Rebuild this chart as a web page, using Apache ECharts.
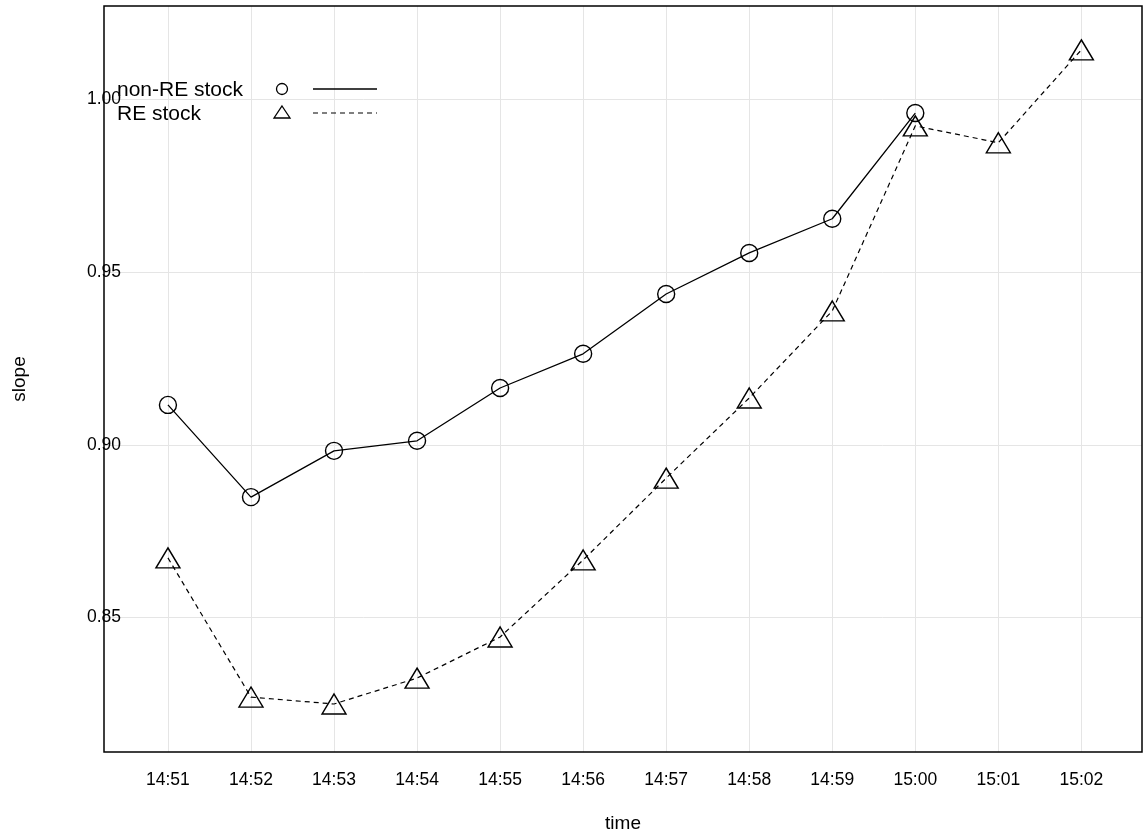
<!DOCTYPE html>
<html>
<head>
<meta charset="utf-8">
<script src="https://cdn.jsdelivr.net/npm/echarts@6/dist/echarts.min.js"></script>
<style>html,body{margin:0;padding:0;background:#fff}#c{width:1146px;height:838px}</style>
</head>
<body>
<div id="c"></div>
<script>
var times = ['14:51','14:52','14:53','14:54','14:55','14:56','14:57','14:58','14:59','15:00','15:01','15:02'];
var nonRE = [0.9116,0.8849,0.8983,0.9012,0.9165,0.9264,0.9437,0.9556,0.9655,0.9961];
var RE = [0.8673,0.8270,0.8250,0.8325,0.8444,0.8667,0.8904,0.9136,0.9388,0.9924,0.9875,1.0144];
var yTicks = [0.85,0.90,0.95,1.00];
var seriesNames = ['non-RE stock','RE stock'];

var idx = times.map(function(t,i){return i;});
var font = 'Liberation Sans, Arial, sans-serif';
var chart = echarts.init(document.getElementById('c'));
chart.setOption({
  animation:false,
  backgroundColor:'#fff',
  grid:{left:104,top:6,right:4,bottom:86,containLabel:false,outerBoundsMode:'none',show:true,borderColor:'#000',borderWidth:1.5,backgroundColor:'transparent',z:10},
  xAxis:{type:'value',min:-0.77,max:11.73,
    name:'time',nameLocation:'middle',nameGap:62,nameTextStyle:{fontFamily:font,fontSize:19,color:'#000'},
    axisLine:{show:false},axisTick:{show:false,customValues:idx},
    axisLabel:{customValues:idx,margin:19,fontFamily:font,fontSize:17.5,color:'#000',formatter:function(v){return times[Math.round(v)];}},
    splitLine:{show:true,lineStyle:{color:'#e5e5e5',width:1}}},
  yAxis:{type:'value',min:0.8111,max:1.0271,
    name:'slope',nameLocation:'middle',nameGap:75,nameRotate:90,nameTextStyle:{fontFamily:font,fontSize:19,color:'#000'},
    axisLine:{show:false},axisTick:{show:false,customValues:yTicks},
    axisLabel:{customValues:yTicks,margin:0,align:'center',fontFamily:font,fontSize:17.5,color:'#000',formatter:function(v){return v.toFixed(2);}},
    splitLine:{show:true,lineStyle:{color:'#e5e5e5',width:1}}},
  series:[
    {name:seriesNames[0],type:'line',data:nonRE.map(function(v,i){return [i,v];}),
     symbol:'circle',symbolSize:17,showAllSymbol:true,
     lineStyle:{color:'#000',width:1.3,type:'solid'},
     itemStyle:{color:'transparent',borderColor:'#000',borderWidth:1.4},z:3},
    {name:seriesNames[1],type:'line',data:RE.map(function(v,i){return [i,v];}),
     symbol:'triangle',symbolSize:[24,20],showAllSymbol:true,
     lineStyle:{color:'#000',width:1.2,type:[5,4]},
     itemStyle:{color:'transparent',borderColor:'#000',borderWidth:1.4},z:3}
  ],
  graphic:[
    {type:'text',left:117,top:80,z:20,style:{text:seriesNames[0],font:'21px '+font,fill:'#000'}},
    {type:'text',left:117,top:104,z:20,style:{text:seriesNames[1],font:'21px '+font,fill:'#000'}},
    {type:'circle',shape:{cx:282,cy:89,r:5.5},z:20,style:{fill:'none',stroke:'#000',lineWidth:1.3}},
    {type:'polygon',shape:{points:[[282,106],[290,118],[274,118]]},z:20,style:{fill:'none',stroke:'#000',lineWidth:1.3}},
    {type:'line',shape:{x1:313,y1:89,x2:377,y2:89},z:20,style:{stroke:'#000',lineWidth:1.3}},
    {type:'line',shape:{x1:313,y1:113,x2:377,y2:113},z:20,style:{stroke:'#000',lineWidth:1.2,lineDash:[5,4]}}
  ]
});
</script>
</body>
</html>
